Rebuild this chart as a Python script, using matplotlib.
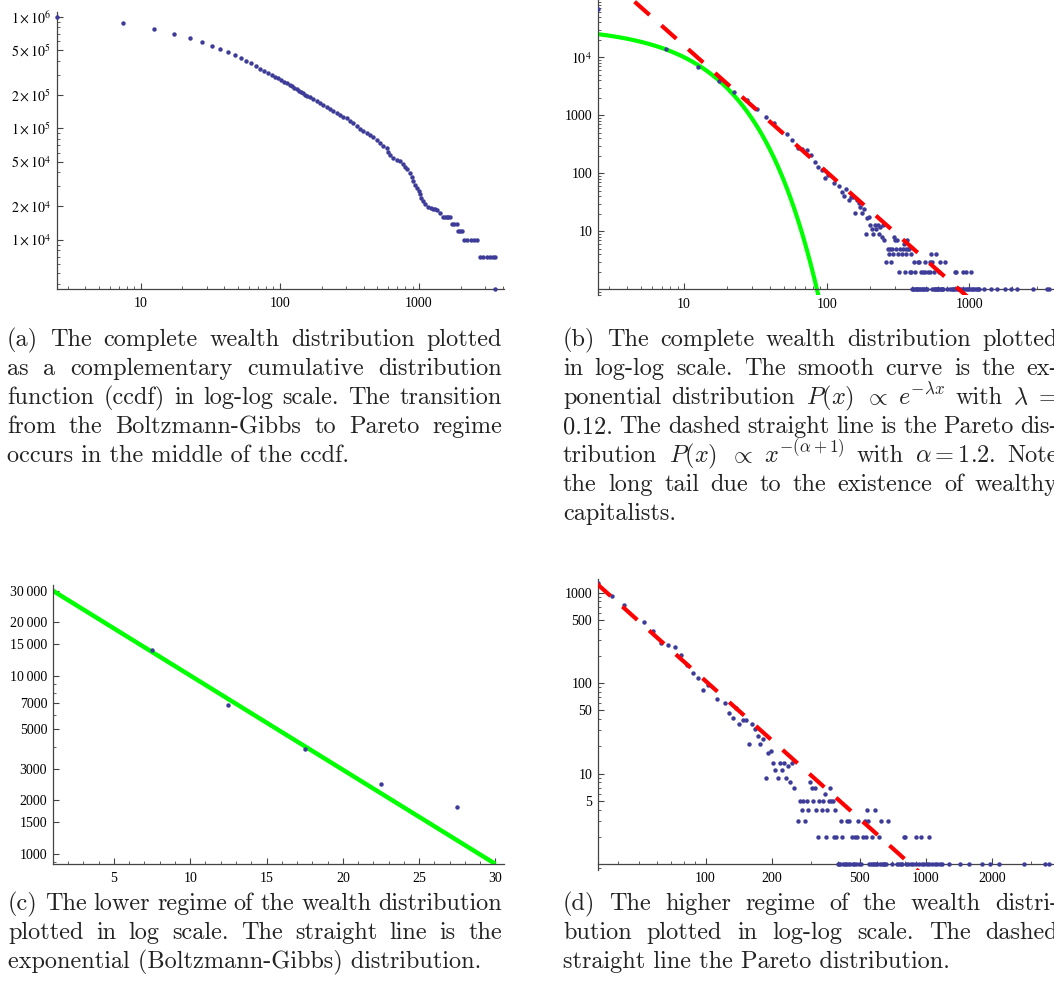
import re
import numpy as np
import matplotlib
matplotlib.use("Agg")
import matplotlib.pyplot as plt
from matplotlib.ticker import FixedLocator, FixedFormatter, NullFormatter, LogLocator, MultipleLocator

plt.rcParams['font.family'] = ['Liberation Serif', 'DejaVu Serif']
plt.rcParams['mathtext.fontset'] = 'stix'

# ---- data ----
# (a) complementary cumulative distribution
ccdf_x = [2.5, 7.5, 12.5, 17.5, 22.5, 27.5, 32.5, 37.5, 42.5, 47.5, 52.5, 57.5, 62.5, 67.5,
          72.5, 77.5, 82.5, 87.5, 92.5, 97.5, 102.5, 107.5, 112.5, 117.5, 122.5, 127.5, 132.5,
          137.5, 142.5, 147.5, 152.5, 157.5, 164, 174, 184, 194, 205, 217, 229, 242, 256, 270,
          286, 302, 319, 337, 357, 377, 398, 421, 445, 470, 497, 525, 555, 586, 601, 619, 654,
          691, 730, 762, 792, 823, 862, 894, 911, 929, 962, 993, 1017, 1037, 1061, 1103, 1164,
          1210, 1253, 1297, 1340, 1413, 1493, 1535, 1578, 1622, 1667, 1715, 1781, 1861, 1914,
          1967, 2033, 2102, 2222, 2347, 2481, 2620, 2738, 2894, 3058, 3231, 3414, 3500, 3530]
ccdf_y = [989000, 873000, 774000, 703000, 644000, 589000, 548000, 509000, 479000, 450000,
          423000, 400000, 381000, 363000, 342000, 327000, 313000, 299000, 289000, 279000,
          271000, 261000, 252000, 244000, 237000, 230000, 223000, 217000, 211000, 205000,
          200000, 195000, 188700, 181000, 173700, 166700, 160000, 153500, 148300, 142300,
          135600, 131000, 126500, 122200, 116400, 110200, 103600, 97300, 94000, 90800, 86500,
          82500, 78000, 72800, 68900, 65700, 61200, 57200, 54100, 52300, 50800, 48100, 44900,
          42600, 39700, 36500, 33600, 30900, 28900, 27300, 25500, 23800, 22200, 20700, 19600,
          19200, 18800, 18700, 18600, 17300, 16000, 16000, 16000, 16000, 16000, 13900, 13900,
          13900, 11900, 11900, 11900, 9860, 9860, 9860, 9860, 9860, 6980, 6980, 6980, 6980,
          6980, 6980, 3630]

# (b)-(d) wealth histogram: bin centre -> number of agents
wealth_x = [2.5, 7.5, 12.5, 17.5, 22.5, 27.5, 32.5, 37.5, 42.5, 52.5, 57.5, 62.5, 67.5, 72.5,
            77.5, 82.5, 87.5, 92.5, 97.5, 102.5, 112.5, 122.5, 127.5, 132.5, 137.5, 142.5,
            147.5, 152.5, 157.5, 162.5, 167.5, 172.5, 177.5, 182.5, 187.5, 192.5, 197.5, 202.5,
            207.5, 212.5, 217.5, 222.5, 227.5, 232.5, 237.5, 242.5, 247.5, 252.5, 262.5, 267.5,
            272.5, 277.5, 282.5, 287.5, 292.5, 297.5, 302.5, 307.5, 312.5, 317.5, 322.5, 327.5,
            337.5, 342.5, 347.5, 352.5, 357.5, 362.5, 367.5, 372.5, 377.5, 382.5, 387.5, 392.5,
            397.5, 402.5, 407.5, 412.5, 417.5, 422.5, 427.5, 432.5, 437.5, 442.5, 447.5, 452.5,
            462.5, 467.5, 472.5, 477.5, 482.5, 487.5, 492.5, 497.5, 507.5, 517.5, 527.5, 532.5,
            537.5, 547.5, 552.5, 562.5, 567.5, 572.5, 582.5, 587.5, 592.5, 602.5, 612.5, 617.5,
            622.5, 632.5, 642.5, 647.5, 657.5, 672.5, 702.5, 737.5, 752.5, 767.5, 782.5, 792.5,
            807.5, 812.5, 827.5, 852.5, 877.5, 897.5, 902.5, 932.5, 947.5, 957.5, 982.5, 1012.5,
            1032.5, 1037.5, 1067.5, 1097.5, 1127.5, 1157.5, 1177.5, 1272.5, 1427.5, 1567.5,
            1787.5, 1952.5, 2147.5, 2797.5, 3482.5, 3627.5]
wealth_n = [67000, 13900, 6890, 3880, 2480, 1820, 1270, 918, 736, 479, 380, 276, 264, 251,
            206, 159, 130, 114, 83, 95, 67, 60, 47, 41, 53, 35,
            39, 39, 21, 35, 31, 26, 21, 24, 9, 17, 18, 13,
            11, 9, 13, 11, 13, 9, 12, 8, 13, 7, 3, 5,
            4, 5, 3, 5, 4, 8, 7, 5, 7, 4, 2, 5,
            4, 5, 6, 2, 4, 5, 7, 5, 5, 2, 4, 2,
            1, 1, 1, 3, 2, 1, 1, 1, 3, 1, 3, 1,
            2, 1, 1, 2, 1, 2, 3, 1, 1, 2, 3, 2,
            4, 3, 1, 1, 2, 1, 1, 4, 1, 1, 2, 1,
            3, 1, 1, 1, 1, 3, 1, 1, 1, 1, 1, 2,
            2, 1, 1, 1, 1, 1, 2, 1, 2, 1, 1, 1,
            2, 1, 1, 1, 1, 1, 1, 1, 1, 1,
            1, 1, 1, 1, 1, 1]

# fitted curves
exp_amp, exp_lambda = 34000, 0.122        # Boltzmann-Gibbs P(x) ~ exp(-lambda x)
pareto_x = [4.5, 1000]                    # Pareto straight line (log-log)
pareto_y = [91000, 0.7]

# ticks
a_xticks, a_xlabels = [10, 100, 1000], ['10', '100', '1000']
a_yticks = [1e4, 2e4, 5e4, 1e5, 2e5, 5e5, 1e6]
a_ylabels = [r'$1\times10^{4}$', r'$2\times10^{4}$', r'$5\times10^{4}$', r'$1\times10^{5}$',
             r'$2\times10^{5}$', r'$5\times10^{5}$', r'$1\times10^{6}$']
b_xticks, b_xlabels = [10, 100, 1000], ['10', '100', '1000']
b_yticks, b_ylabels = [10, 100, 1000, 1e4], ['10', '100', '1000', r'$10^{4}$']
c_xticks, c_xlabels = [5, 10, 15, 20, 25, 30], ['5', '10', '15', '20', '25', '30']
c_yticks = [1000, 1500, 2000, 3000, 5000, 7000, 10000, 15000, 20000, 30000]
c_ylabels = ['1000', '1500', '2000', '3000', '5000', '7000',
             '10\u2009000', '15\u2009000', '20\u2009000', '30\u2009000']
d_xticks, d_xlabels = [100, 200, 500, 1000, 2000], ['100', '200', '500', '1000', '2000']
d_yticks, d_ylabels = [5, 10, 50, 100, 500, 1000], ['5', '10', '50', '100', '500', '1000']

caption_a = ["(a) The complete wealth distribution plotted",
             "as a complementary cumulative distribution",
             "function (ccdf) in log-log scale. The transition",
             "from the Boltzmann-Gibbs to Pareto regime",
             "occurs in the middle of the ccdf."]
caption_b = ["(b) The complete wealth distribution plotted",
             "in log-log scale.  The smooth curve is the ex-",
             r"ponential distribution $P(x)$ $\propto$ $e^{-\lambda x}$ with $\lambda\ =$",
             "0.12. The dashed straight line is the Pareto dis-",
             r"tribution $P(x)$ $\propto$ $x^{-(\alpha+1)}$ with $\alpha = 1.2$. Note",
             "the long tail due to the existence of wealthy",
             "capitalists."]
caption_c = ["(c) The lower regime of the wealth distribution",
             "plotted in log scale.  The straight line is the",
             "exponential (Boltzmann-Gibbs) distribution."]
caption_d = ["(d) The higher regime of the wealth distri-",
             "bution plotted in log-log scale.  The dashed",
             "straight line the Pareto distribution."]

BLUE = '#3d3d99'
GREEN = '#00ff00'
RED = '#ff0000'
AXC = '#444444'

W, H = 1054, 985
fig = plt.figure(figsize=(W / 100, H / 100), dpi=100)


def axes_px(left, top, right, bottom):
    return fig.add_axes([left / W, 1 - bottom / H, (right - left) / W, (bottom - top) / H])


def style(ax, xt, xl, yt, yl, xpad=6, ypad=4):
    for s in ['top', 'right']:
        ax.spines[s].set_visible(False)
    for s in ['left', 'bottom']:
        ax.spines[s].set_color(AXC)
        ax.spines[s].set_linewidth(0.9)
    ax.patch.set_visible(False)
    ax.xaxis.set_major_locator(FixedLocator(xt))
    ax.xaxis.set_major_formatter(FixedFormatter(xl))
    ax.yaxis.set_major_locator(FixedLocator(yt))
    ax.yaxis.set_major_formatter(FixedFormatter(yl))
    ax.xaxis.set_minor_formatter(NullFormatter())
    ax.yaxis.set_minor_formatter(NullFormatter())
    ax.tick_params(which='both', direction='in', color=AXC, labelsize=10)
    ax.tick_params(which='major', length=4, width=0.8)
    ax.tick_params(which='minor', length=2.2, width=0.6)
    ax.tick_params(axis='x', pad=xpad)
    ax.tick_params(axis='y', pad=ypad)


minor_log = lambda: LogLocator(base=10, subs=np.arange(2, 10), numticks=30)

# (a)
ax = axes_px(56.7, 12, 504, 288.7)
ax.set_xscale('log'); ax.set_yscale('log')
ax.plot(ccdf_x, ccdf_y, 'o', ms=3.2, mec='none', color=BLUE, clip_on=False, zorder=3)
ax.set_xlim(2.5, 4080); ax.set_ylim(3630, 1.1e6)
ax.xaxis.set_minor_locator(minor_log()); ax.yaxis.set_minor_locator(minor_log())
style(ax, a_xticks, a_xlabels, a_yticks, a_ylabels)

# (b)
ax = axes_px(597.7, 0, 1054, 295)
ax.set_xscale('log'); ax.set_yscale('log')
gx = np.geomspace(2.48, 120, 300)
ax.plot(gx, exp_amp * np.exp(-exp_lambda * gx), color=GREEN, lw=3, zorder=2)
ax.plot(wealth_x, wealth_n, 'o', ms=3.2, mec='none', color=BLUE, zorder=3)
ax.plot(pareto_x, pareto_y, color=RED, lw=3, dashes=(4.8, 3.8), solid_capstyle='butt',
        dash_capstyle='butt', zorder=4)
ax.set_xlim(2.48, 3930); ax.set_ylim(0.8, 97300)
ax.spines['bottom'].set_position(('data', 1))
ax.xaxis.set_minor_locator(minor_log()); ax.yaxis.set_minor_locator(minor_log())
style(ax, b_xticks, b_xlabels, b_yticks, b_ylabels)

# (c)
ax = axes_px(52.7, 585, 504, 864)
ax.set_yscale('log')
cx = np.linspace(0.99, 30, 50)
ax.plot(cx, exp_amp * np.exp(-exp_lambda * cx), color=GREEN, lw=3.2, zorder=2,
        solid_capstyle='butt')
ax.plot(wealth_x, wealth_n, 'o', ms=3.2, mec='none', color=BLUE, zorder=3)
ax.set_xlim(0.99, 30.56); ax.set_ylim(875, 32400)
ax.xaxis.set_minor_locator(MultipleLocator(1)); ax.yaxis.set_minor_locator(minor_log())
style(ax, c_xticks, c_xlabels, c_yticks, c_ylabels)

# (d)
ax = axes_px(597.7, 579, 1054, 870)
ax.set_xscale('log'); ax.set_yscale('log')
ax.plot(wealth_x, wealth_n, 'o', ms=3.2, mec='none', color=BLUE, zorder=3)
ax.plot(pareto_x, pareto_y, color=RED, lw=3, dashes=(4.8, 3.8), dash_capstyle='butt',
        zorder=4)
ax.set_xlim(32.4, 3811); ax.set_ylim(0.86, 1417)
ax.spines['bottom'].set_position(('data', 1))
ax.xaxis.set_minor_locator(minor_log()); ax.yaxis.set_minor_locator(minor_log())
style(ax, d_xticks, d_xlabels, d_yticks, d_ylabels)

# captions, justified like the LaTeX source
renderer = fig.canvas.get_renderer()
CAP = dict(fontsize=17.5, family='cmr10', math_fontfamily='cm', va='baseline', color='#222222')


def caption(lines, left, right, base0, step=29):
    for i, line in enumerate(lines):
        y = 1 - (base0 + i * step) / H
        if i == len(lines) - 1:
            fig.text(left / W, y, line, **CAP)
            continue
        words = re.findall(r'(?:\$[^$]*\$|[^\s$])+', line)
        texts = [fig.text(0, y, w, **CAP) for w in words]
        widths = [t.get_window_extent(renderer).width for t in texts]
        gap = (right - left - sum(widths)) / (len(words) - 1)
        x = left
        for t, w in zip(texts, widths):
            t.set_x(x / W)
            x += w + gap


caption(caption_a, 7, 502, 346)
caption(caption_b, 563, 1058, 346)
caption(caption_c, 8, 502, 910)
caption(caption_d, 563, 1058, 910)

fig.savefig('out.png', dpi=100)
